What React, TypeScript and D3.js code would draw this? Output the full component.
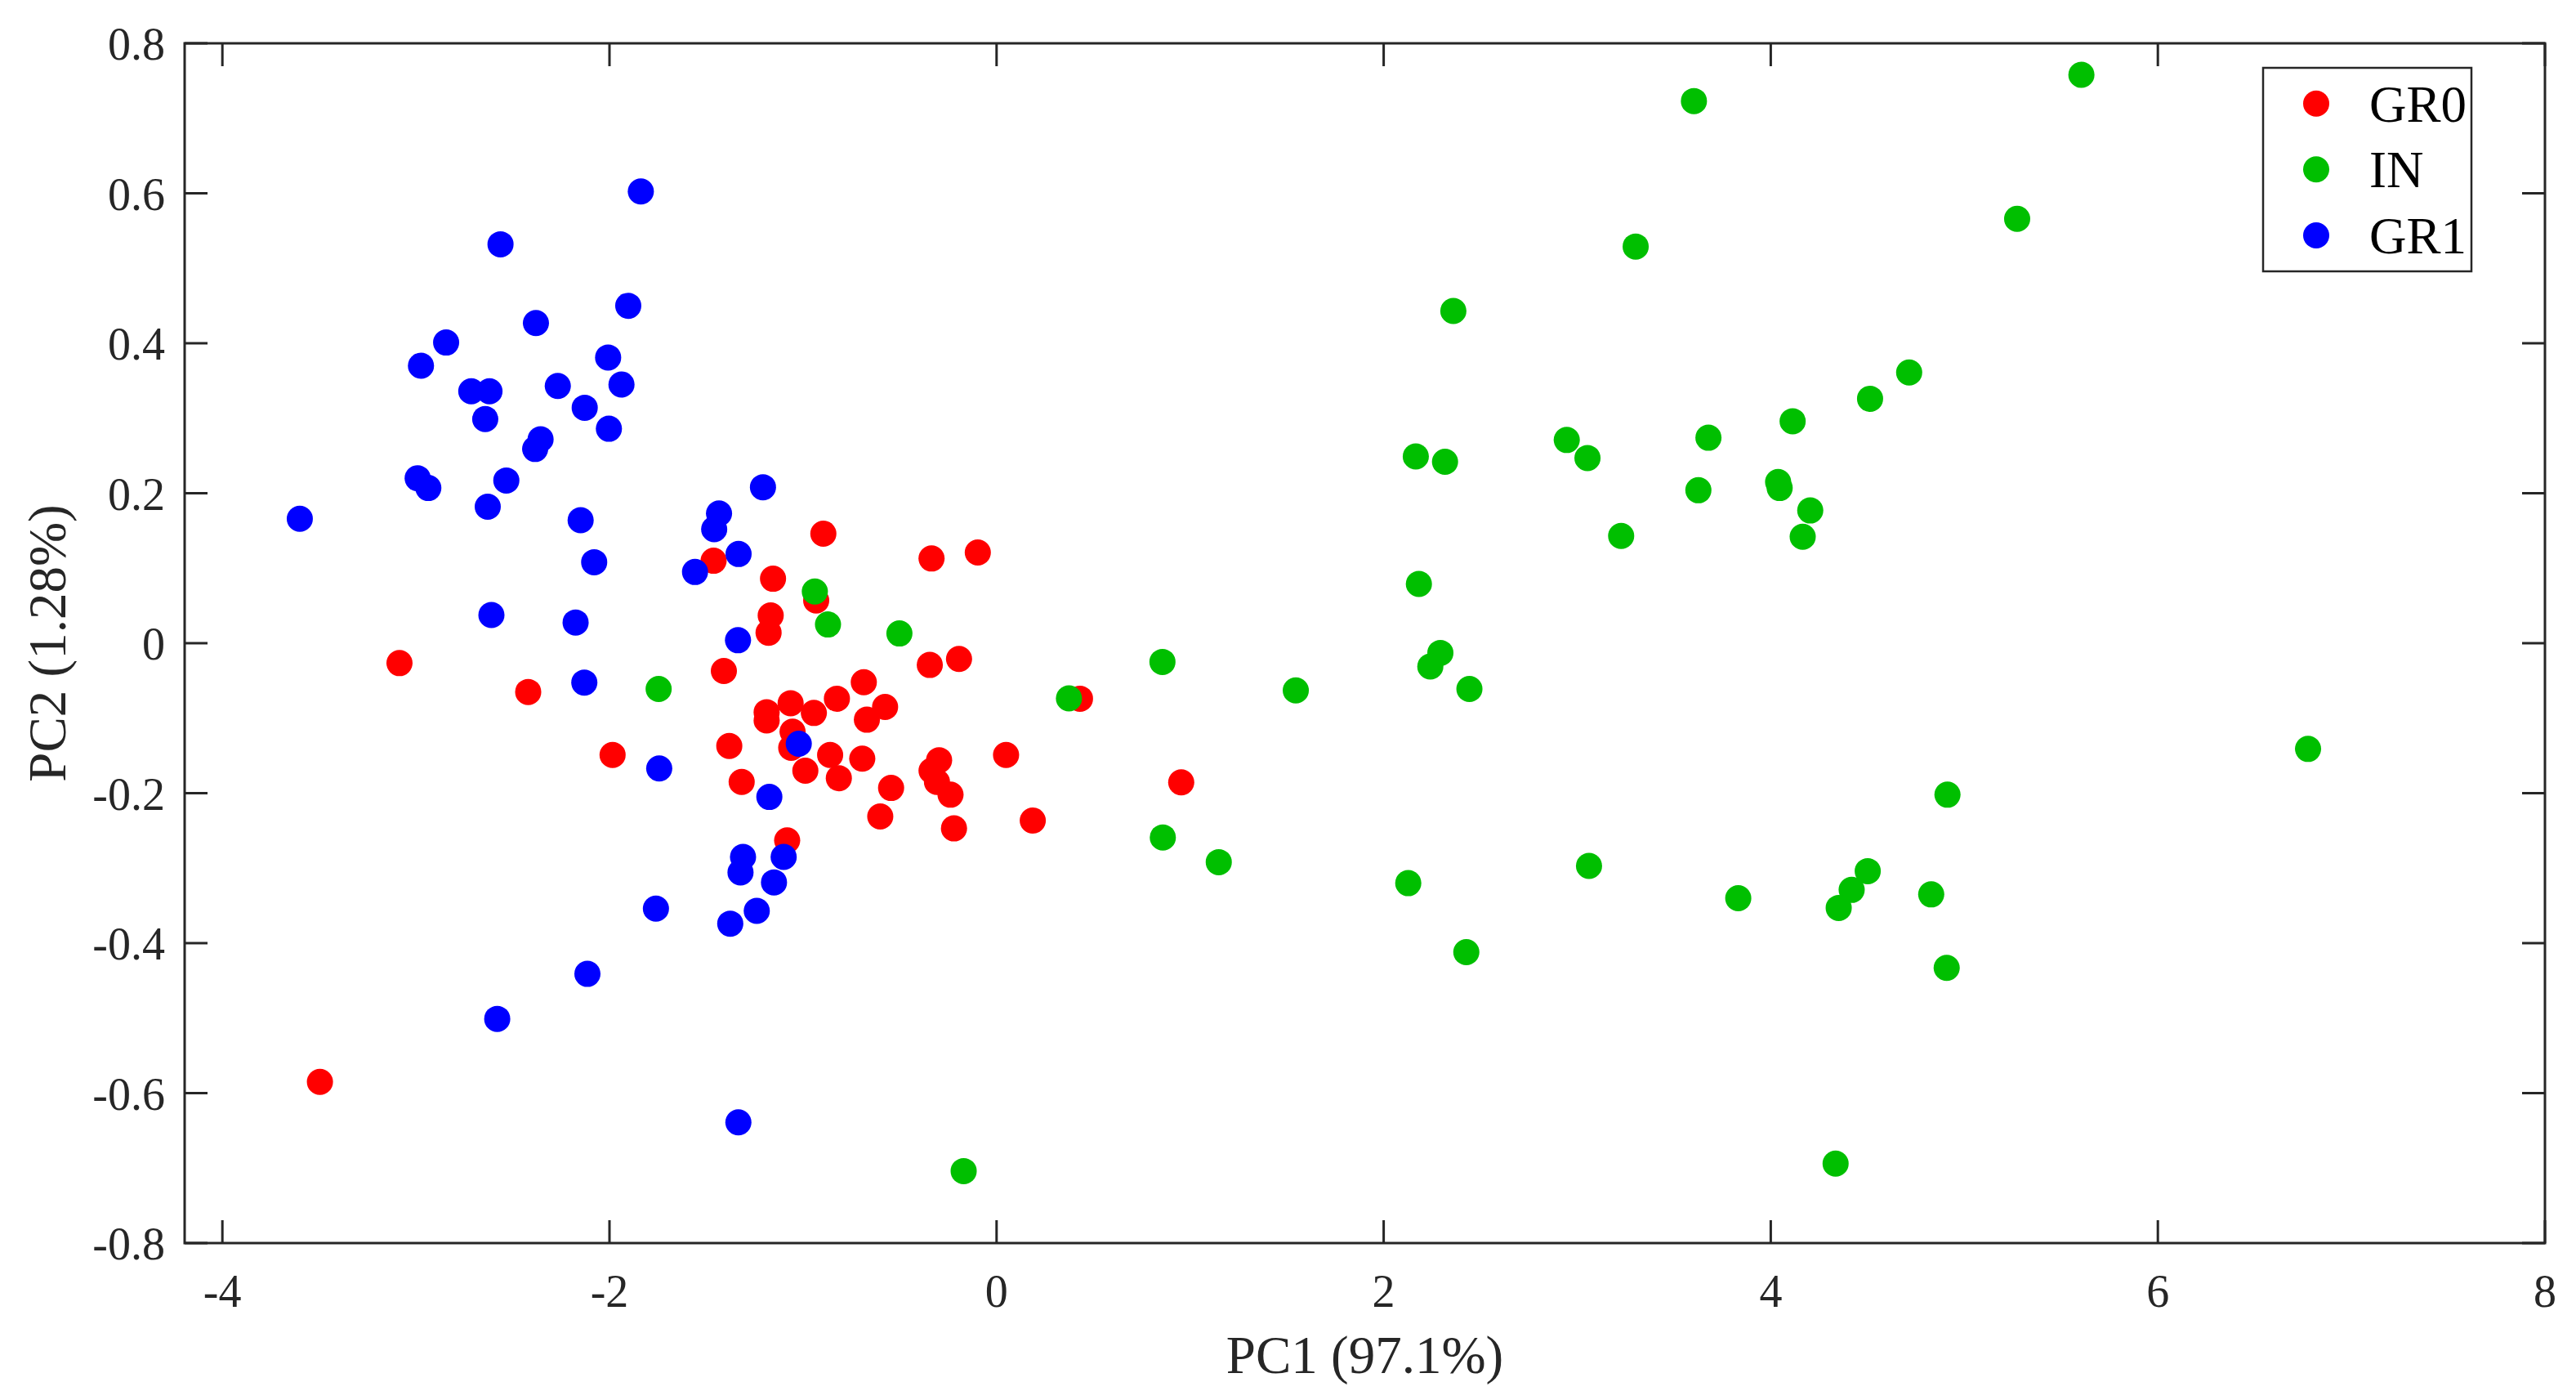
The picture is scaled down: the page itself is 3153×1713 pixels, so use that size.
import React from "react";
import * as d3 from "d3";

const W = 3153;
const H = 1713;

const seriesNames = ["GR0", "IN", "GR1"];
const seriesColors = ["#ff0000", "#00bf00", "#0000ff"];

// GR0 (red)
const gr0X = [-1.462, -1.155, -0.895, -0.336, -0.097, -0.932, -1.167, -1.178, -1.409, -0.345, -0.194, -0.686, -0.825, -0.576, -0.670, -0.944, -1.064, -1.188, -1.188, -1.054, -1.061, -1.381, -0.860, -0.694, -0.988, -0.815, -1.317, -0.545, -0.297, -0.336, -0.308, -0.238, 0.049, -0.601, -0.220, 0.187, -1.082, 0.431, 0.954, -3.085, -2.420, -1.984, -3.496];
const gr0Y = [0.110, 0.086, 0.146, 0.113, 0.121, 0.057, 0.037, 0.014, -0.037, -0.029, -0.021, -0.052, -0.074, -0.085, -0.102, -0.093, -0.080, -0.092, -0.103, -0.118, -0.1395, -0.137, -0.149, -0.154, -0.170, -0.180, -0.185, -0.193, -0.156, -0.170, -0.185, -0.202, -0.149, -0.231, -0.247, -0.2365, -0.263, -0.074, -0.1855, -0.0265, -0.065, -0.149, -0.585];

// IN (green)
const inX = [5.605, 3.603, 5.273, 3.302, 2.360, 4.715, 4.513, 4.113, 2.946, 3.678, 3.053, 2.166, 2.317, 3.626, 4.038, 4.046, 4.204, 4.165, 3.227, 2.182, 2.293, 2.241, 2.443, 6.776, 4.913, 2.127, 3.061, 3.832, 4.501, 4.418, 4.351, 4.829, 2.427, 4.909, 4.335, 0.857, 0.374, 1.546, 0.859, 1.148, -0.170, -0.939, -0.871, -0.502, -1.746];
const inY = [0.758, 0.723, 0.566, 0.529, 0.443, 0.361, 0.326, 0.296, 0.271, 0.274, 0.247, 0.249, 0.242, 0.204, 0.215, 0.207, 0.177, 0.142, 0.143, 0.079, -0.013, -0.031, -0.061, -0.141, -0.202, -0.320, -0.297, -0.340, -0.304, -0.329, -0.353, -0.335, -0.412, -0.433, -0.694, -0.025, -0.0736, -0.063, -0.259, -0.292, -0.704, 0.069, 0.025, 0.013, -0.061];

// GR1 (blue)
const gr1X = [-1.838, -2.563, -1.903, -2.380, -2.844, -2.974, -2.007, -2.714, -2.620, -2.267, -1.938, -2.128, -2.642, -2.003, -2.356, -2.384, -2.991, -2.936, -2.533, -2.629, -3.600, -2.149, -2.079, -1.207, -1.434, -1.459, -1.333, -1.558, -2.610, -2.175, -1.336, -2.130, -1.022, -1.743, -1.174, -1.100, -1.310, -1.323, -1.150, -1.239, -1.376, -1.760, -2.114, -2.580, -1.334];
const gr1Y = [0.6025, 0.532, 0.450, 0.427, 0.401, 0.370, 0.381, 0.336, 0.336, 0.343, 0.345, 0.314, 0.299, 0.286, 0.272, 0.259, 0.220, 0.207, 0.217, 0.182, 0.166, 0.164, 0.108, 0.208, 0.173, 0.152, 0.119, 0.095, 0.0376, 0.0276, 0.004, -0.0525, -0.134, -0.167, -0.205, -0.285, -0.285, -0.3056, -0.319, -0.357, -0.374, -0.354, -0.441, -0.501, -0.639];

const xTicks = [-4, -2, 0, 2, 4, 6, 8];
const yTicks = [-0.8, -0.6, -0.4, -0.2, 0, 0.2, 0.4, 0.6, 0.8];
const xLabel = "PC1 (97.1%)";
const yLabel = "PC2 (1.28%)";

const seriesX = [gr0X, inX, gr1X];
const seriesY = [gr0Y, inY, gr1Y];

export default function App() {
  const left = 226, right = 3115, top = 53, bottom = 1521;
  const x = d3.scaleLinear().domain([-4.195, 8]).range([left, right]);
  const y = d3.scaleLinear().domain([-0.8, 0.8]).range([bottom, top]);
  const axisColor = "#262626";
  const font = "'Liberation Serif', 'Times New Roman', serif";
  const tickLen = 28;
  const r = 16;
  const fmtY = (v: number) => (Math.abs(v) < 1e-9 ? "0" : d3.format(".1f")(v).replace("−", "-"));

  const legendX = 2770, legendY = 83, legendW = 255, legendH = 249;
  const legendRowY = [126.7, 207.3, 288];

  return (
    <svg width={W} height={H} style={{ position: "absolute", left: 0, top: 0, background: "#fff" }}>
      <rect x={0} y={0} width={W} height={H} fill="#fff" />
      {/* points */}
      {seriesX.map((xs, si) => (
        <g key={si} fill={seriesColors[si]}>
          {xs.map((v, i) => (
            <circle key={i} cx={x(v)} cy={y(seriesY[si][i])} r={r} />
          ))}
        </g>
      ))}
      {/* box */}
      <rect x={left} y={top} width={right - left} height={bottom - top} fill="none" stroke={axisColor} strokeWidth={3} />
      {/* x ticks */}
      {xTicks.map((t) => (
        <g key={"xt" + t}>
          <line x1={x(t)} x2={x(t)} y1={bottom} y2={bottom - tickLen} stroke={axisColor} strokeWidth={3} />
          <line x1={x(t)} x2={x(t)} y1={top} y2={top + tickLen} stroke={axisColor} strokeWidth={3} />
          <text x={x(t)} y={bottom + 78} textAnchor="middle" fontFamily={font} fontSize={56} fill={axisColor}>
            {String(t)}
          </text>
        </g>
      ))}
      {/* y ticks */}
      {yTicks.map((t) => (
        <g key={"yt" + t}>
          <line x1={left} x2={left + tickLen} y1={y(t)} y2={y(t)} stroke={axisColor} strokeWidth={3} />
          <line x1={right} x2={right - tickLen} y1={y(t)} y2={y(t)} stroke={axisColor} strokeWidth={3} />
          <text x={left - 24} y={y(t) + 20} textAnchor="end" fontFamily={font} fontSize={56} fill={axisColor}>
            {fmtY(t)}
          </text>
        </g>
      ))}
      {/* axis labels */}
      <text x={(left + right) / 2} y={1680} textAnchor="middle" fontFamily={font} fontSize={65} fill={axisColor}>
        {xLabel}
      </text>
      <text transform={`translate(80, ${(top + bottom) / 2}) rotate(-90)`} textAnchor="middle" fontFamily={font} fontSize={65} fill={axisColor}>
        {yLabel}
      </text>
      {/* legend */}
      <rect x={legendX} y={legendY} width={legendW} height={legendH} fill="#fff" stroke={axisColor} strokeWidth={2.5} />
      {seriesNames.map((n, i) => (
        <g key={n}>
          <circle cx={2835} cy={legendRowY[i]} r={r} fill={seriesColors[i]} />
          <text x={2900} y={legendRowY[i] + 22} fontFamily={font} fontSize={63} fill="#000">
            {n}
          </text>
        </g>
      ))}
    </svg>
  );
}
